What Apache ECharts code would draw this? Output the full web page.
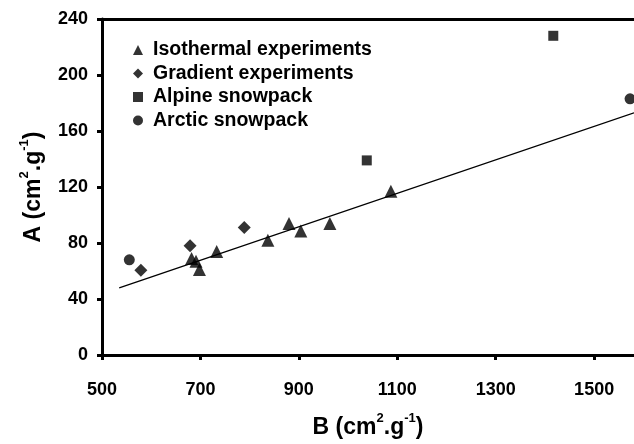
<!DOCTYPE html>
<html>
<head>
<meta charset="utf-8">
<script src="https://cdn.jsdelivr.net/npm/echarts@6/dist/echarts.min.js"></script>
<style>html,body{margin:0;padding:0;background:#fff;}#c{width:634px;height:444px;}</style>
</head>
<body>
<div id="c"></div>
<script>
const seriesNames = ['Isothermal experiments', 'Gradient experiments', 'Alpine snowpack', 'Arctic snowpack'];
const isoB = [682, 691, 698, 733, 837, 880, 904, 963, 1087];
const isoA = [69, 67, 61, 74, 82, 94, 88.5, 94, 117];
const gradB = [579, 679, 789];
const gradA = [60.5, 78, 91];
const alpB = [1038, 1417];
const alpA = [139, 228];
const arcB = [555.5, 1573];
const arcA = [68, 183];
const fitB = [535, 1581];
const fitA = [48, 173];
const xTicks = [500, 700, 900, 1100, 1300, 1500];
const yTicks = [0, 40, 80, 120, 160, 200, 240];

const FONT = "'Liberation Sans Narrow', 'Liberation Sans', Arial, sans-serif";
const zip = (a, b) => a.map((v, i) => [v, b[i]]);

const chart = echarts.init(document.getElementById('c'));
const rich = {
  a: {fontFamily: FONT, fontWeight: 'bold', fontSize: 23, color: '#000', lineHeight: 27, verticalAlign: 'bottom'},
  s: {fontFamily: FONT, fontWeight: 'bold', fontSize: 13, color: '#000', lineHeight: 27, verticalAlign: 'top'}
};
chart.setOption({
  animation: false,
  backgroundColor: '#fff',
  textStyle: {fontFamily: FONT},
  grid: {left: 102, top: 19, bottom: 89, right: 0, show: false},
  legend: {
    orient: 'vertical', left: 128, top: 35, itemGap: 3.5, itemWidth: 10, itemHeight: 10,
    data: seriesNames,
    textStyle: {fontFamily: FONT, fontWeight: 'bold', fontSize: 19.5, color: '#000', lineHeight: 19, padding: [0, 0, 0, 5]},
    itemStyle: {color: '#000'}
  },
  xAxis: [{
    type: 'value', min: 500, max: 1581, interval: 200,
    name: '{a|B (cm}{s|2}{a|.g}{s|-1}{a|)}',
    nameLocation: 'middle', nameGap: 57,
    nameTextStyle: {rich: rich},
    axisLine: {show: true, lineStyle: {color: '#000', width: 3}},
    axisTick: {show: true, length: 5, lineStyle: {color: '#000', width: 3}},
    axisLabel: {show: true, margin: 26, showMaxLabel: false, fontFamily: FONT, fontWeight: 'bold', fontSize: 18, color: '#000',
      formatter: v => xTicks.includes(v) ? String(v) : ''},
    splitLine: {show: false}
  }, {
    type: 'value', position: 'top', min: 500, max: 1581, interval: 200,
    axisLine: {show: true, onZero: false, lineStyle: {color: '#000', width: 3}},
    axisTick: {show: false}, axisLabel: {show: false}, splitLine: {show: false}
  }],
  yAxis: {
    type: 'value', min: 0, max: 240, interval: 40,
    name: '{a|A (cm}{s|2}{a|.g}{s|-1}{a|)}',
    nameLocation: 'middle', nameGap: 57, nameRotate: 90,
    nameTextStyle: {rich: rich},
    axisLine: {show: true, lineStyle: {color: '#000', width: 3}},
    axisTick: {show: true, length: 5, lineStyle: {color: '#000', width: 3}},
    axisLabel: {show: true, margin: 14, fontFamily: FONT, fontWeight: 'bold', fontSize: 18, color: '#000',
      formatter: v => yTicks.includes(v) ? String(v) : ''},
    splitLine: {show: false}
  },
  series: [
    {name: seriesNames[0], type: 'scatter', symbol: 'triangle', symbolSize: 13, itemStyle: {color: '#000'}, data: zip(isoB, isoA), z: 5},
    {name: seriesNames[1], type: 'scatter', symbol: 'diamond', symbolSize: 13, itemStyle: {color: '#000'}, data: zip(gradB, gradA), z: 5},
    {name: seriesNames[2], type: 'scatter', symbol: 'rect', symbolSize: 10, itemStyle: {color: '#000'}, data: zip(alpB, alpA), z: 5},
    {name: seriesNames[3], type: 'scatter', symbol: 'circle', symbolSize: 11, itemStyle: {color: '#000'}, data: zip(arcB, arcA), z: 5},
    {name: 'fit', type: 'line', symbol: 'none', lineStyle: {color: '#000', width: 1.3}, data: zip(fitB, fitA), z: 3, clip: true}
  ]
});
</script>
</body>
</html>
